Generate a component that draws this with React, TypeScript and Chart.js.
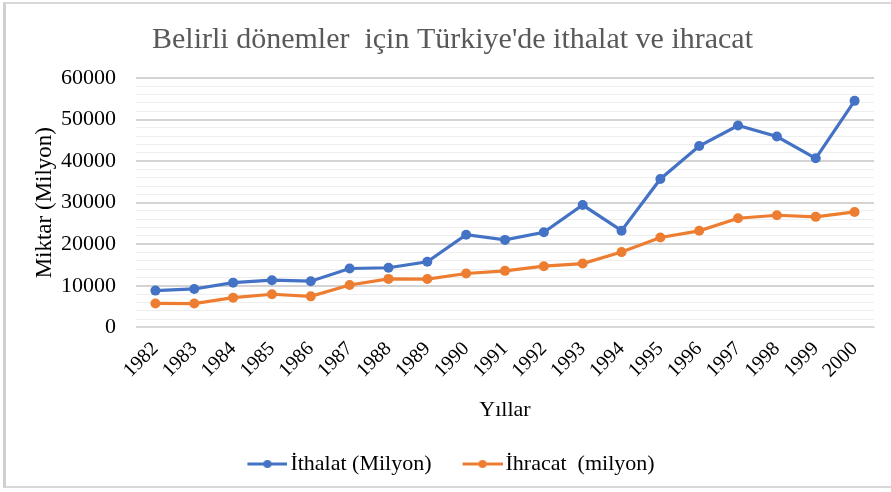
import React, { useEffect, useRef } from "react";
import { Chart, registerables } from "chart.js";

Chart.register(...registerables);

const years = ["1982","1983","1984","1985","1986","1987","1988","1989","1990","1991","1992","1993","1994","1995","1996","1997","1998","1999","2000"];
const ithalat = [8843, 9235, 10757, 11343, 11105, 14158, 14335, 15792, 22302, 21047, 22871, 29428, 23270, 35709, 43627, 48559, 45921, 40671, 54503];
const ihracat = [5746, 5728, 7134, 7958, 7457, 10190, 11662, 11625, 12959, 13593, 14715, 15345, 18106, 21637, 23225, 26261, 26974, 26587, 27775];
const seriesNames = ["İthalat (Milyon)", "İhracat  (milyon)"];
const seriesColors = ["#4472C4", "#ED7D31"];
const titleText = "Belirli dönemler  için Türkiye'de ithalat ve ihracat";
const yTitle = "Miktar (Milyon)";
const xTitle = "Yıllar";

const FONT = "'Liberation Serif', 'Times New Roman', serif";

// legend marker: symmetric image so that the line sits right before the text
function makeMarker(color: string): HTMLCanvasElement {
  const c = document.createElement("canvas");
  c.width = 65;
  c.height = 10;
  const ctx = c.getContext("2d")!;
  ctx.strokeStyle = color;
  ctx.lineWidth = 3;
  ctx.beginPath();
  ctx.moveTo(25, 5);
  ctx.lineTo(65, 5);
  ctx.stroke();
  ctx.fillStyle = color;
  ctx.beginPath();
  ctx.arc(45, 5, 4, 0, Math.PI * 2);
  ctx.fill();
  return c;
}

const legendShift = {
  id: "legendShift",
  afterLayout(chart: any) {
    if (chart.legend) {
      chart.legend.left -= 10;
      chart.legend.right -= 10;
    }
  },
};

export default function App() {
  const ref = useRef<HTMLCanvasElement | null>(null);

  useEffect(() => {
    if (!ref.current) return;
    const markers = seriesColors.map(makeMarker);
    const mkDs = (i: number, data: number[]) => ({
      label: seriesNames[i],
      data,
      borderColor: seriesColors[i],
      backgroundColor: seriesColors[i],
      borderWidth: 3.2,
      pointRadius: 5,
      pointHoverRadius: 5,
      pointBorderWidth: 0,
      tension: 0,
    });
    const chart = new Chart(ref.current, {
      type: "line",
      data: {
        labels: years,
        datasets: [mkDs(0, ithalat), mkDs(1, ihracat)],
      },
      plugins: [legendShift],
      options: {
        responsive: false,
        animation: false,
        layout: { padding: { left: 31, right: 17, top: 0, bottom: 7 } },
        plugins: {
          title: {
            display: true,
            text: titleText,
            color: "#595959",
            font: { family: FONT, size: 30, weight: "normal" },
            padding: { top: 22, bottom: 20 },
          },
          legend: {
            position: "bottom",
            labels: {
              usePointStyle: true,
              pointStyleWidth: 49,
              color: "#000",
              font: { family: FONT, size: 22 },
              padding: 14,
              generateLabels: (ch: any) =>
                ch.data.datasets.map((ds: any, i: number) => ({
                  text: ds.label,
                  pointStyle: markers[i],
                  fillStyle: ds.borderColor,
                  strokeStyle: ds.borderColor,
                  lineWidth: 0,
                  hidden: false,
                  datasetIndex: i,
                  fontColor: "#000",
                })),
            },
          },
          tooltip: { enabled: false },
        },
        scales: {
          x: {
            offset: true,
            grid: { display: false },
            border: { display: true, color: "#d9d9d9", width: 1 },
            ticks: {
              color: "#000",
              font: { family: FONT, size: 20 },
              maxRotation: 45,
              minRotation: 45,
              autoSkip: false,
              padding: 2,
            },
            title: {
              display: true,
              text: xTitle,
              color: "#000",
              font: { family: FONT, size: 22 },
              padding: { top: 12, bottom: 16 },
            },
          },
          y: {
            min: 0,
            max: 60000,
            border: { display: false },
            afterFit: (s: any) => {
              s.width = 105;
            },
            grid: {
              drawTicks: false,
              color: (c: any) => (c.tick && c.tick.value % 10000 === 0 ? "#d4d4d4" : "#eeeeee"),
              lineWidth: (c: any) => (c.tick && c.tick.value % 10000 === 0 ? 2 : 1),
            },
            ticks: {
              stepSize: 2000,
              autoSkip: false,
              color: "#000",
              font: { family: FONT, size: 22 },
              padding: 20,
              callback: (v: any) => (Number(v) % 10000 === 0 ? String(v) : ""),
            },
            title: {
              display: true,
              text: yTitle,
              color: "#000",
              font: { family: FONT, size: 23 },
              padding: { top: 0, bottom: 0 },
            },
          },
        },
      },
    });
    return () => chart.destroy();
  }, []);

  return (
    <div style={{ position: "fixed", left: 0, top: 0, width: 891, height: 492, background: "#fff", overflow: "hidden" }}>
      <div
        style={{
          position: "absolute",
          left: 3,
          top: 2,
          width: 920,
          height: 486,
          borderLeft: "3px solid #d0d0d0",
          borderTop: "2px solid #d8d8d8",
          borderBottom: "2px solid #d8d8d8",
          boxSizing: "border-box",
        }}
      />
      <canvas ref={ref} width={891} height={492} style={{ position: "absolute", left: 0, top: 0 }} />
    </div>
  );
}
